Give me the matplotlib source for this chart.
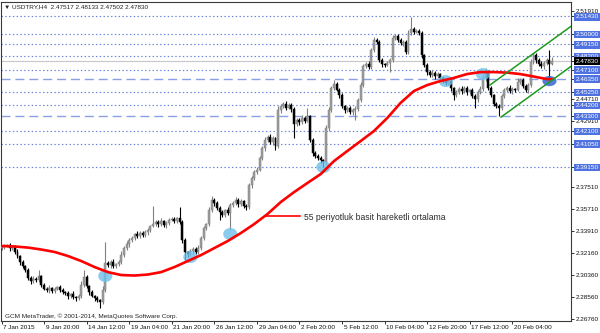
import numpy as np
import matplotlib.pyplot as plt
import matplotlib.transforms as mtransforms
from matplotlib.patches import Ellipse

plt.rcParams['font.family'] = ['Liberation Sans', 'DejaVu Sans']

# USDTRY H4 kapanislari (okunan degerler), bar 0 = 7 Jan 2015
close = [
    2.3262, 2.3270, 2.3278, 2.3253, 2.3262, 2.3221, 2.3188, 2.3139, 2.3106, 2.3074,
    2.3009, 2.2984, 2.3001, 2.2992, 2.3025, 2.2952, 2.2919, 2.2911, 2.2927, 2.2902,
    2.2919, 2.2935, 2.2911, 2.2894, 2.2886, 2.2862, 2.2878, 2.2853, 2.2845, 2.2862,
    2.2952, 2.3017, 2.2943, 2.2894, 2.2862, 2.2845, 2.2829, 2.2813, 2.2911, 2.3131,
    2.3115, 2.3139, 2.3106, 2.3123, 2.3139, 2.3196, 2.3253, 2.3286, 2.3319, 2.3335,
    2.3368, 2.3351, 2.3376, 2.3359, 2.3384, 2.3400, 2.3433, 2.3449, 2.3465, 2.3449,
    2.3474, 2.3441, 2.3457, 2.3482, 2.3490, 2.3474, 2.3498, 2.3465, 2.3319, 2.3221,
    2.3204, 2.3229, 2.3245, 2.3221, 2.3253, 2.3335, 2.3417, 2.3449, 2.3563, 2.3645,
    2.3620, 2.3580, 2.3547, 2.3523, 2.3563, 2.3539, 2.3604, 2.3620, 2.3645, 2.3612,
    2.3637, 2.3596, 2.3588, 2.3767, 2.3825, 2.3873, 2.3890, 2.3988, 2.4069, 2.4135,
    2.4159, 2.4118, 2.4151, 2.4086, 2.4379, 2.4412, 2.4428, 2.4396, 2.4420, 2.4388,
    2.4265, 2.4298, 2.4281, 2.4314, 2.4290, 2.4330, 2.4135, 2.4028, 2.4004, 2.3988,
    2.3971, 2.3955, 2.4232, 2.4379, 2.4559, 2.4592, 2.4543, 2.4502, 2.4412, 2.4379,
    2.4396, 2.4363, 2.4379, 2.4388, 2.4461, 2.4583, 2.4738, 2.4755, 2.4730, 2.4869,
    2.4951, 2.4934, 2.4787, 2.4755, 2.4747, 2.4763, 2.4787, 2.4967, 2.4983, 2.4951,
    2.4926, 2.4934, 2.4853, 2.5008, 2.5040, 2.5016, 2.5024, 2.5008, 2.4828, 2.4747,
    2.4689, 2.4665, 2.4681, 2.4657, 2.4673, 2.4641, 2.4624, 2.4600, 2.4616, 2.4559,
    2.4502, 2.4526, 2.4551, 2.4534, 2.4559, 2.4526, 2.4543, 2.4494, 2.4469, 2.4526,
    2.4551, 2.4641, 2.4689, 2.4559, 2.4502, 2.4428, 2.4412, 2.4396, 2.4494, 2.4543,
    2.4559, 2.4534, 2.4551, 2.4543, 2.4608, 2.4624, 2.4575, 2.4543, 2.4583, 2.4771,
    2.4828, 2.4787, 2.4755, 2.4738, 2.4763, 2.4787, 2.4752, 2.4783,
]
first_open = 2.3255

# fitil uzunluklari (pip)
wick_up = [
    15, 20, 12, 18, 10, 14, 22, 10, 16, 12,
    20, 14, 25, 12, 49, 10, 18, 14, 22, 12,
    16, 10, 20, 14, 12, 18, 10, 24, 12, 16,
    30, 57, 14, 10, 18, 12, 20, 10, 30, 171,
    20, 14, 24, 12, 18, 30, 16, 22, 14, 20,
    12, 25, 16, 20, 14, 18, 12, 147, 20, 16,
    24, 12, 18, 14, 20, 16, 12, 90, 14, 18,
    12, 20, 16, 14, 22, 18, 20, 12, 26, 30,
    16, 20, 14, 18, 12, 22, 16, 20, 24, 14,
    18, 12, 16, 20, 18, 14, 22, 16, 20, 24,
    14, 26, 18, 12, 30, 20, 16, 24, 14, 18,
    16, 20, 14, 22, 18, 65, 12, 16, 20, 14,
    18, 12, 22, 26, 16, 33, 20, 14, 18, 12,
    20, 16, 14, 22, 18, 26, 20, 14, 24, 18,
    25, 16, 14, 20, 12, 18, 14, 24, 20, 16,
    18, 14, 20, 22, 98, 16, 18, 14, 20, 12,
    18, 14, 22, 16, 20, 12, 18, 14, 22, 16,
    12, 20, 16, 24, 14, 18, 12, 16, 20, 14,
    22, 26, 30, 14, 18, 12, 16, 14, 20, 18,
    14, 22, 16, 12, 30, 20, 16, 14, 18, 24,
    20, 14, 18, 22, 16, 14, 82, 30,
]
wick_dn = [
    14, 18, 10, 20, 12, 16, 14, 20, 12, 18,
    16, 22, 12, 18, 14, 20, 12, 16, 24, 14,
    18, 12, 20, 16, 14, 22, 18, 12, 20, 16,
    14, 18, 16, 20, 12, 22, 18, 49, 14, 20,
    18, 22, 16, 14, 20, 12, 18, 16, 22, 14,
    20, 16, 12, 18, 14, 22, 16, 12, 18, 20,
    14, 18, 22, 16, 12, 20, 14, 18, 24, 65,
    20, 16, 22, 14, 18, 12, 16, 20, 14, 18,
    22, 16, 65, 14, 20, 18, 139, 16, 12, 20,
    14, 18, 22, 16, 20, 14, 18, 12, 16, 20,
    18, 14, 22, 33, 16, 20, 14, 18, 12, 22,
    114, 16, 20, 14, 18, 12, 16, 20, 14, 18,
    22, 41, 16, 20, 14, 18, 12, 22, 16, 20,
    14, 18, 22, 82, 16, 20, 14, 18, 12, 16,
    20, 14, 18, 22, 16, 12, 73, 18, 14, 20,
    16, 22, 18, 14, 20, 16, 12, 18, 22, 14,
    20, 16, 14, 22, 18, 12, 20, 16, 14, 22,
    41, 18, 16, 20, 14, 22, 18, 16, 73, 20,
    14, 18, 22, 16, 20, 14, 18, 65, 16, 20,
    18, 14, 22, 16, 12, 20, 18, 14, 22, 16,
    14, 20, 18, 16, 22, 14, 122, 2,
]

# 55 periyotluk basit hareketli ortalama
ma_bars = [0, 5, 10, 15, 20, 25, 30, 35, 40, 45, 50, 55, 60, 65, 70, 75, 80, 85, 90, 95,
           100, 105, 110, 115, 120, 125, 130, 135, 140, 145, 150, 155, 160, 165, 170,
           175, 180, 185, 190, 195, 200, 205, 207]
ma_vals = [2.3270, 2.3266, 2.3257, 2.3241, 2.3221, 2.3188, 2.3147, 2.3098, 2.3057, 2.3033,
           2.3029, 2.3037, 2.3057, 2.3098, 2.3147, 2.3196, 2.3253, 2.3310, 2.3376, 2.3449,
           2.3531, 2.3629, 2.3710, 2.3784, 2.3857, 2.3963, 2.4045, 2.4126, 2.4208, 2.4314,
           2.4437, 2.4534, 2.4583, 2.4616, 2.4641, 2.4673, 2.4689, 2.4689, 2.4685, 2.4673,
           2.4653, 2.4632, 2.4632]

# yatay seviyeler
dotted_levels = [2.51430, 2.50000, 2.49150, 2.48200, 2.47100, 2.45250, 2.44200,
                 2.42100, 2.41050, 2.39150]
dashed_levels = [2.46350, 2.43300]
current_price = 2.47830
plain_ticks = [2.51910, 2.44710, 2.42910, 2.37510, 2.35710, 2.33910, 2.32160,
               2.30360, 2.28560, 2.26760]
last_ohlc = [2.47517, 2.48133, 2.47502, 2.47830]

date_bars = [0, 16, 32, 48, 64, 80, 96, 112, 128, 144, 160, 176, 192]
date_labels = ['7 Jan 2015', '9 Jan 20:00', '14 Jan 12:00', '19 Jan 04:00', '21 Jan 20:00',
               '26 Jan 12:00', '29 Jan 04:00', '2 Feb 20:00', '5 Feb 12:00', '10 Feb 04:00',
               '12 Feb 20:00', '17 Feb 12:00', '20 Feb 04:00']

# isaretlenen temas noktalari
touch_bars = [39, 71, 86, 121, 167, 181]
touch_prices = [2.3025, 2.3180, 2.3368, 2.3914, 2.4616, 2.4673]
last_touch = (206, 2.4616)

# yukselen kanal
channel_bars = [187.8, 205.8]
channel_prices = [2.4322, 2.4605]
channel_upper = (183.6, 2.4583)

# MA etiketi
label_bars = [99.1, 112.2]
label_price = 2.3514
label_text = '55 periyotluk basit hareketli ortalama'

fig = plt.figure(figsize=(6.0, 3.33), dpi=100)
ax = fig.add_axes([1 / 600, 12 / 333, 570 / 600, 319 / 333])
xmax = 214.1
ax.set_xlim(-0.2, xmax)
ax.set_ylim(2.2658, 2.5261)

# seviye cizgileri
for lv in dotted_levels:
    ax.axhline(lv, color='#6A84DC', lw=0.85, ls=(0, (1.2, 2.0)), zorder=1)
for lv in dashed_levels:
    ax.axhline(lv, color='#8AA0E6', lw=1.0, ls=(0, (6.5, 3.5)), zorder=1)
ax.axhline(current_price, color='#C8C8C8', lw=0.8, zorder=1)

# mumlar
c = np.array(close)
o = np.r_[first_open, c[:-1]]
hi = np.maximum(o, c) + np.array(wick_up) * 1e-4
lo = np.minimum(o, c) - np.array(wick_dn) * 1e-4
idx = np.arange(len(c))
bull = c >= o
for m, fc, ec in [(bull, '#9C9C9C', '#808080'), (~bull, '#000000', '#000000')]:
    ax.vlines(idx[m], lo[m], hi[m], color=ec, lw=0.8, zorder=2)
    ax.bar(idx[m], np.maximum(np.abs(c - o)[m], 0.0005), bottom=np.minimum(o, c)[m],
           width=0.74, color=fc, edgecolor=ec, lw=0.35, zorder=3)

# temas daireleri
w, h = 5.3, 0.0098
for b, p in zip(touch_bars, touch_prices):
    ax.add_patch(Ellipse((b, p), w, h, color='#6EC0EA', alpha=0.8, lw=0, zorder=4))
ax.add_patch(Ellipse(last_touch, w, h * 0.85, color='#3566D8', alpha=0.85, lw=0, zorder=4))

# hareketli ortalama
ax.plot(ma_bars, ma_vals, color='#FF0000', lw=1.9, zorder=5, solid_capstyle='round')
ax.plot(label_bars, [label_price, label_price], color='#FF0000', lw=1.2, zorder=5)
ax.text(label_bars[1] + 1.4, label_price - 0.0012, label_text, fontsize=6.2,
        color='#2A2A2A', va='center', ha='left')

# kanal
slope = (channel_prices[1] - channel_prices[0]) / (channel_bars[1] - channel_bars[0])
b0, p0 = channel_bars[0], channel_prices[0]
ax.plot([b0, xmax], [p0, p0 + slope * (xmax - b0)], color='#1E9A1E', lw=1.1, zorder=6)
b1, p1 = channel_upper
ax.plot([b1, xmax], [p1, p1 + slope * (xmax - b1)], color='#1E9A1E', lw=1.1, zorder=6)

# eksenler
for s in ax.spines.values():
    s.set_color('#3A3A3A')
    s.set_linewidth(0.8)

ax.yaxis.tick_right()
boxed = dotted_levels + dashed_levels
yt = plain_ticks + boxed + [current_price]
ax.set_yticks(yt)
ax.set_yticklabels([f'{v:.5f}' for v in yt])
ax.tick_params(axis='y', direction='out', length=2, width=0.6, pad=1.2,
               labelsize=4.6, colors='#111111')
for lab, v in zip(ax.get_yticklabels(), yt):
    if v in boxed:
        lab.set_color('white')
        lab.set_bbox(dict(boxstyle='square,pad=0.2', fc='#4E72E2', ec='none'))
    elif v == current_price:
        lab.set_color('white')
        lab.set_bbox(dict(boxstyle='square,pad=0.2', fc='#000000', ec='none'))

ax.set_xticks(date_bars)
ax.set_xticklabels(date_labels)
ax.tick_params(axis='x', direction='out', length=2, width=0.6, pad=0.6,
               labelsize=4.6, colors='#111111')
shift = mtransforms.ScaledTranslation(1.2 / 72, 0, fig.dpi_scale_trans)
for lab in ax.get_xticklabels():
    lab.set_ha('left')
    lab.set_transform(lab.get_transform() + shift)

fig.text(4 / 600, 1 - 7 / 333,
         '▼ USDTRY,H4  ' + ' '.join(f'{v:.5f}' for v in last_ohlc),
         fontsize=4.6, color='#222222', va='center', ha='left')
fig.text(5 / 600, 1 - 316 / 333, 'GCM MetaTrader, © 2001-2014, MetaQuotes Software Corp.',
         fontsize=4.6, color='#222222', va='center', ha='left')

fig.savefig('out.png', dpi=100, facecolor='white')
